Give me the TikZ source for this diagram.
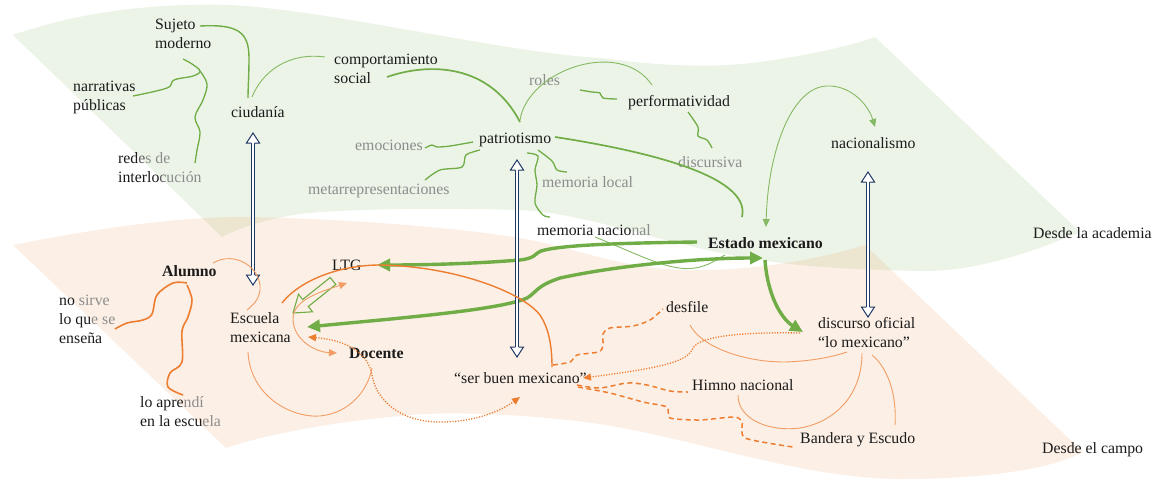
\documentclass[tikz,border=0pt]{standalone}
\usepackage{fontspec}
\setmainfont{Liberation Serif}
\usetikzlibrary{arrows.meta,calc}
\definecolor{ink}{RGB}{26,26,26}
\definecolor{fade}{RGB}{140,140,140}
\definecolor{halffade}{RGB}{90,90,90}
\definecolor{leaf}{RGB}{112,173,71}
\definecolor{ember}{RGB}{237,125,49}
\definecolor{deepnavy}{RGB}{32,56,100}
\newcommand\fd[1]{\textcolor{fade}{#1}}
\newcommand\hf[1]{\textcolor{halffade}{#1}}
% left-aligned block of lines whose baseline is the first line
\newcommand\stacklines[1]{\vtop{\halign{##\hfil\cr#1\crcr}}}
\tikzset{
  otip/.tip={Triangle[length=8pt,width=7pt]},
  gtip/.tip={Triangle[length=8pt,width=7pt]},
  htip/.tip={Triangle[length=13pt,width=12pt]},
}
\begin{document}
\begin{tikzpicture}[x=1pt,y=-1pt,
  lbl/.style={anchor=base west, inner sep=0pt, text=ink, font=\fontsize{15.8}{19}\selectfont},
  thinG/.style={draw=leaf!85, line width=0.9pt},
  midG/.style={draw=leaf, line width=1.7pt},
  wigG/.style={draw=leaf, line width=1.3pt},
  heavyG/.style={draw=leaf, line width=3.4pt},
  thinO/.style={draw=ember!75, line width=0.9pt},
  midO/.style={draw=ember, line width=1.6pt},
  dashO/.style={draw=ember, line width=1.5pt, dash pattern=on 5pt off 3.5pt},
  dotO/.style={draw=ember, line width=1.3pt, dash pattern=on 1.2pt off 1.5pt},
  navyshaft/.style={draw=deepnavy, line width=1pt, double=white, double distance=2.2pt},
  navyhead/.pic={\path[draw=deepnavy, line width=1pt, fill=white, line join=miter]
    (-1.6,0) -- (-6.5,0) -- (0,-10) -- (6.5,0) -- (1.6,0);},
]
\useasboundingbox (0,0) rectangle (1156,480);
\fill[white] (0,0) rectangle (1156,480);

% the two waving bands
\fill[leaf, fill opacity=0.13] (13,35) .. controls (80,12) and (150,3) .. (230,5)
  .. controls (330,10) and (500,52) .. (600,58) .. controls (640,63) and (700,70) .. (760,62)
  .. controls (810,55) and (850,46) .. (875,37) -- (1080,232)
  .. controls (1010,262) and (960,271) .. (926,271) .. controls (850,270) and (790,266) .. (741,257)
  .. controls (650,240) and (580,212) .. (519,210) .. controls (420,207) and (330,210) .. (300,214)
  .. controls (260,220) and (235,230) .. (222,237) -- cycle;
\fill[ember, fill opacity=0.12] (13,245) .. controls (80,232) and (170,216) .. (250,217)
  .. controls (350,219) and (460,228) .. (520,238) .. controls (580,249) and (620,268) .. (680,270)
  .. controls (760,272) and (830,256) .. (865,245) -- (1083,452)
  .. controls (1050,470) and (980,479) .. (900,479) .. controls (800,478) and (700,440) .. (600,424)
  .. controls (520,413) and (440,411) .. (400,416) .. controls (330,422) and (260,436) .. (226,448) -- cycle;

% labels
\node[lbl] (suj) at (155,29) {\stacklines{Sujeto\cr moderno}};
\node[lbl] (nar) at (73,91) {\stacklines{narrativas\cr públicas}};
\node[lbl] (red) at (118,163) {\stacklines{red\hf{e}\fd{s de}\cr interlo\hf{c}\fd{ución}}};
\node[lbl] (ciu) at (231,117) {ciudanía};
\node[lbl] (comp) at (334,64) {\stacklines{comportamiento\cr social}};
\node[lbl,text=fade] (roles) at (529,85) {roles};
\node[lbl] (perf) at (628,106) {performatividad};
\node[lbl,text=fade] (emo) at (355,150) {emociones};
\node[lbl] (patr) at (479,143) {patriotismo};
\node[lbl,text=fade] (meta) at (308,194) {metarrepresentaciones};
\node[lbl,text=fade] (meml) at (542,187) {memoria local};
\node[lbl,text=fade] (disc) at (678,167) {discursiva};
\node[lbl] (memn) at (537,235) {memoria nacio\fd{nal}};
\node[lbl] (nac) at (831,148) {nacionalismo};
\node[lbl] (est) at (708,248) {\textbf{Estado mexicano}};
\node[lbl] (acad) at (1033,238) {Desde la academia};
\node[lbl] (alum) at (162,276) {\textbf{Alumno}};
\node[lbl] (nosi) at (59,305) {\stacklines{no \fd{sirve}\cr lo qu\fd{e se}\cr enseña}};
\node[lbl] (esc) at (230,323) {\stacklines{Escuela\cr mexicana}};
\node[lbl] (ltg) at (332,270) {LTG};
\node[lbl] (doc) at (349,358) {\textbf{Docente}};
\node[lbl] (apr) at (140,407) {\stacklines{lo apre\fd{ndí}\cr en la escu\fd{ela}}};
\node[lbl] (ser) at (454,383) {“ser buen mexicano”};
\node[lbl] (desf) at (666,312) {desfile};
\node[lbl] (dof) at (818,328) {\stacklines{discurso oficial\cr “lo mexicano”}};
\node[lbl] (himno) at (692,390) {Himno nacional};
\node[lbl] (band) at (800,443) {Bandera y Escudo};
\node[lbl] (campo) at (1042,453) {Desde el campo};

% academic concepts
\draw[midG, line width=1.4pt] ($(suj.base west)+(45,-3)$) .. controls (238,24) and (249,32) .. (249,58)
  .. controls (249,75) and (248,88) .. ($(ciu.base west)+(17,-19)$);
\draw[thinG] ($(ciu.base west)+(21,-20)$) .. controls (262,72) and (288,52) .. ($(comp.base west)+(-9,-7)$);
\draw[wigG] plot[smooth, tension=0.6] coordinates {($(suj.base west)+(28,30)$) (192,64) (200,71) (193,76) (174,80) (167,88) ($(nar.base west)+(60,5)$)};
\draw[wigG] plot[smooth, tension=0.6] coordinates {(200,71) (207,84) (203,100) (195,117) (200,132) (197,150) ($(red.base west)+(77,0)$)};
\draw[midG] ($(comp.base west)+(53,13)$) .. controls (430,62) and (490,64) .. ($(patr.base west)+(41,-21)$);
\draw[thinG] ($(patr.base west)+(41,-23)$) .. controls (528,70) and (620,38) .. ($(perf.base west)+(24,-21)$);
\draw[wigG] plot[smooth, tension=0.5] coordinates {($(roles.base west)+(51,5)$) (592,92) (600,93) (603,98) ($(perf.base west)+(-11,-7)$)};
\draw[wigG] plot[smooth, tension=0.5] coordinates {($(perf.base west)+(60,6)$) (698,127) (698,136) (707,140) ($(disc.base west)+(34,-19)$)};
\draw[midG] ($(patr.base west)+(76,-6)$) .. controls (640,150) and (752,175) .. ($(est.base west)+(34,-31)$);
\draw[wigG] plot[smooth, tension=0.5] coordinates {($(patr.base west)+(-6,-1)$) (450,146) (437,147) (432,145) ($(emo.base west)+(70,-2)$)};
\draw[wigG] plot[smooth, tension=0.5] coordinates {($(patr.base west)+(1,7)$) (466,155) (462,167) (440,170) ($(meta.base west)+(117,-14)$)};
\draw[wigG] plot[smooth, tension=0.5] coordinates {($(patr.base west)+(59,7)$) (552,161) (557,170) ($(meml.base west)+(25,-15)$)};
\draw[wigG] plot[smooth, tension=0.5] coordinates {($(patr.base west)+(48,10)$) (538,156) (535,170) (537,185) (535,203) (543,215) ($(memn.base west)+(13,-18)$)};
\draw[thinG, gtip-gtip] ($(est.base west)+(58,-21)$) .. controls (768,150) and (792,87) .. (827,86)
  .. controls (850,85) and (868,104) .. ($(nac.base west)+(44,-21)$);
\draw[thinG] ($(memn.base west)+(58,2)$) .. controls (640,255) and (670,272) .. (695,268)
  .. controls (708,266) and (716,260) .. ($(est.base west)+(17,7)$);

% state discourse
\draw[heavyG, -htip] ($(est.base west)+(-11,-6)$) .. controls (620,243) and (560,245) .. (541,251)
  .. controls (534,254) and (536,258) .. (520,260) .. controls (470,264) and (420,265) .. ($(ltg.base west)+(45,-5)$);
\draw[heavyG, htip-htip] ($(esc.base west)+(77,4)$) .. controls (400,318) and (500,310) .. (527,298)
  .. controls (537,292) and (536,286) .. (560,278) .. controls (620,265) and (700,258) .. ($(est.base west)+(55,10)$);
\draw[heavyG, -htip] ($(est.base west)+(57,12)$) .. controls (767,292) and (780,318) .. ($(dof.base west)+(-15,4)$);
\draw[leaf, line width=1.1pt, line join=miter] (335.8,284.5) -- (330.2,277.5) -- (302.7,299.5) -- (298.5,294.2)
  -- (293,313) -- (312.5,311.8) -- (308.3,306.5) -- cycle;

% links between the two views
\draw[navyshaft] ($(253,0 |- ciu.base)+(0,26)$) -- ($(253,0 |- esc.base)+(0,-48)$);
\pic at ($(253,0 |- ciu.base)+(0,26)$) {navyhead};
\pic[rotate=180] at ($(253,0 |- esc.base)+(0,-48)$) {navyhead};
\draw[navyshaft] ($(517,0 |- patr.base)+(0,27)$) -- ($(517,0 |- ser.base)+(0,-36)$);
\pic at ($(517,0 |- patr.base)+(0,27)$) {navyhead};
\pic[rotate=180] at ($(517,0 |- ser.base)+(0,-36)$) {navyhead};
\draw[navyshaft] ($(868,0 |- nac.base)+(0,34)$) -- ($(868,0 |- dof.base)+(0,-21)$);
\pic at ($(868,0 |- nac.base)+(0,34)$) {navyhead};
\pic[rotate=180] at ($(868,0 |- dof.base)+(0,-21)$) {navyhead};

% field concepts
\draw[midO] plot[smooth, tension=0.55] coordinates {($(alum.base west)+(25,7)$) (173,283) (157,295) (152,314) (143,320) (127,323) ($(nosi.base west)+(56,24)$)};
\draw[midO] plot[smooth, tension=0.55] coordinates {($(alum.base west)+(25,9)$) (192,300) (188,317) (182,331) (182,362) (170,373) (168,387) ($(apr.base west)+(43,-12)$)};
\draw[thinO] ($(alum.base west)+(51,-13)$) .. controls (235,250) and (262,268) .. (260,290)
  .. controls (259,300) and (252,306) .. ($(esc.base west)+(17,-13)$);
\draw[thinO] ($(esc.base west)+(18,29)$) .. controls (250,395) and (290,418) .. (320,416)
  .. controls (350,413) and (368,390) .. ($(doc.base west)+(23,10)$);
\draw[midO, line width=1.4pt] ($(esc.base west)+(52,-20)$) .. controls (300,280) and (340,265) .. (380,265)
  .. controls (450,266) and (520,290) .. (540,315) .. controls (550,330) and (552,350) .. ($(ser.base west)+(98,-16)$);
\draw[thinO, otip-otip] ($(ltg.base west)+(15,13)$) .. controls (320,292) and (292,300) .. (293,320)
  .. controls (294,340) and (315,352) .. ($(doc.base west)+(-12,-5)$);
\draw[dotO, otip-otip] ($(esc.base west)+(78,14)$) .. controls (345,340) and (368,352) .. (372,375)
  .. controls (376,400) and (400,422) .. (440,422) .. controls (480,422) and (505,408) .. ($(ser.base west)+(66,14)$);
\draw[dashO] plot[smooth, tension=0.5] coordinates {($(ser.base west)+(99,-18)$) (570,362) (577,355) (598,352) (603,346) (603,334) (610,328) (633,326) (650,320) ($(desf.base west)+(-3,-3)$)};
\draw[dotO, -otip] ($(dof.base west)+(-18,5)$) .. controls (750,332) and (700,335) .. (693,348)
  .. controls (688,362) and (660,368) .. ($(ser.base west)+(129,-5)$);
\draw[dashO] plot[smooth, tension=0.5] coordinates {($(ser.base west)+(123,2)$) (600,388) (627,383) (647,385) (670,391) ($(himno.base west)+(-4,2)$)};
\draw[dashO] plot[smooth, tension=0.4] coordinates {($(ser.base west)+(124,4)$) (610,393) (643,402) (667,407) (670,418) (700,420) (733,417) (742,421) (745,438) ($(band.base west)+(-7,4)$)};
\draw[thinO] ($(desf.base west)+(24,13)$) .. controls (700,345) and (740,362) .. (785,362)
  .. controls (815,361) and (835,356) .. ($(dof.base west)+(29,24)$);
\draw[thinO] ($(himno.base west)+(46,5)$) .. controls (738,420) and (770,432) .. (800,428)
  .. controls (835,422) and (862,395) .. ($(dof.base west)+(44,25)$);
\draw[thinO] ($(dof.base west)+(54,27)$) .. controls (888,368) and (897,395) .. ($(band.base west)+(95,-18)$);
\end{tikzpicture}
\end{document}
